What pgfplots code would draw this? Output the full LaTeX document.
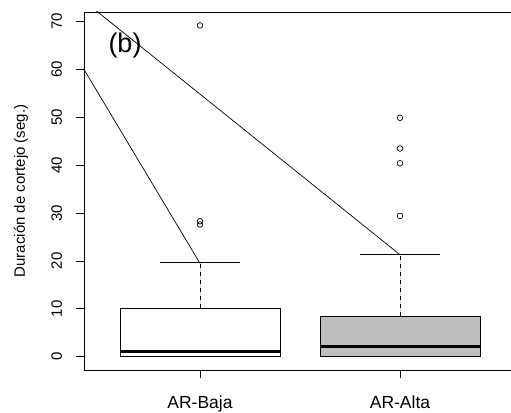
\documentclass[border=0pt]{standalone}
\usepackage{fontspec}
\setmainfont{Liberation Sans}
\usepackage{pgfplots}
\pgfplotsset{compat=1.18}
\usepgfplotslibrary{statistics}
\definecolor{rgray}{RGB}{190,190,190}
\pgfplotsset{
  boxplot/draw/upper whisker/.code={%
    \draw[black, line width=0.8bp, dash pattern=on 4bp off 4bp]
      (boxplot box cs:\pgfplotsboxplotvalue{upper quartile},0.5) --
      (boxplot box cs:\pgfplotsboxplotvalue{upper whisker},0.5);
    \draw[black, line width=0.8bp]
      (boxplot whisker cs:\pgfplotsboxplotvalue{upper whisker},0) --
      (boxplot whisker cs:\pgfplotsboxplotvalue{upper whisker},1);
  },
  boxplot/draw/lower whisker/.code={%
    \draw[black, line width=0.8bp, dash pattern=on 4bp off 4bp]
      (boxplot box cs:\pgfplotsboxplotvalue{lower quartile},0.5) --
      (boxplot box cs:\pgfplotsboxplotvalue{lower whisker},0.5);
    \draw[black, line width=0.8bp]
      (boxplot whisker cs:\pgfplotsboxplotvalue{lower whisker},0) --
      (boxplot whisker cs:\pgfplotsboxplotvalue{lower whisker},1);
  },
}
\begin{document}
\begin{tikzpicture}
\useasboundingbox (-84bp,-43bp) rectangle (427bp,370bp);
\begin{axis}[
  at={(0,0)}, anchor=south west,
  scale only axis,
  width=427bp, height=358bp,
  xmin=0.42, xmax=2.555,
  ymin=-2.78, ymax=72.0,
  axis x line*=box, axis y line*=left,
  axis line style={line width=0.8bp, black, -},
  xtick={1,2}, xticklabels={AR-Baja, AR-Alta},
  ytick={0,10,20,30,40,50,60,70},
  xtick pos=bottom, ytick pos=left,
  tick align=outside,
  major tick length=8bp,
  tick style={line width=0.8bp, black},
  xticklabel style={anchor=base, font=\fontsize{17.5bp}{21bp}\selectfont},
  xticklabel shift=30bp,
  yticklabel style={rotate=90, anchor=base, font=\fontsize{15bp}{18bp}\selectfont},
  yticklabel shift=14bp,
  /pgf/number format/assume math mode=true,
  every axis y label/.style={at={(axis description cs:-0.1475,0.5)}, rotate=90, anchor=center},
  ylabel={Duración de cortejo (seg.)},
  ylabel style={font=\fontsize{15bp}{18bp}\selectfont},
  boxplot/draw direction=y,
  boxplot/every median/.style={line width=3bp, black},
  boxplot/every box/.style={line width=0.8bp, draw=black},
]
\addplot[black, line width=0.7bp] coordinates {(0.40,61.4) (1,19.5)};
\addplot[black, line width=0.7bp] coordinates {(0.46,72.96) (2,21.3)};
\addplot[boxplot prepared={lower whisker=0, lower quartile=0, median=1.0,
    upper quartile=10.1, upper whisker=19.6, draw position=1,
    box extend=0.8, whisker extend=0.4},
  draw=black, fill=white, mark=o, mark size=2.8bp,
  mark options={black, line width=0.7bp, solid}]
  table[row sep=\\, y index=0] {69.2\\ 28.3\\ 27.6\\};
\addplot[boxplot prepared={lower whisker=0, lower quartile=0, median=2.2,
    upper quartile=8.5, upper whisker=21.45, draw position=2,
    box extend=0.8, whisker extend=0.4},
  draw=black, fill=rgray, mark=o, mark size=2.8bp,
  mark options={black, line width=0.7bp, solid}]
  table[row sep=\\, y index=0] {49.9\\ 43.5\\ 40.4\\ 29.4\\};
\node[font=\fontsize{27bp}{30bp}\selectfont] at (axis cs:0.625,65.1) {(b)};
\end{axis}
\end{tikzpicture}
\end{document}
